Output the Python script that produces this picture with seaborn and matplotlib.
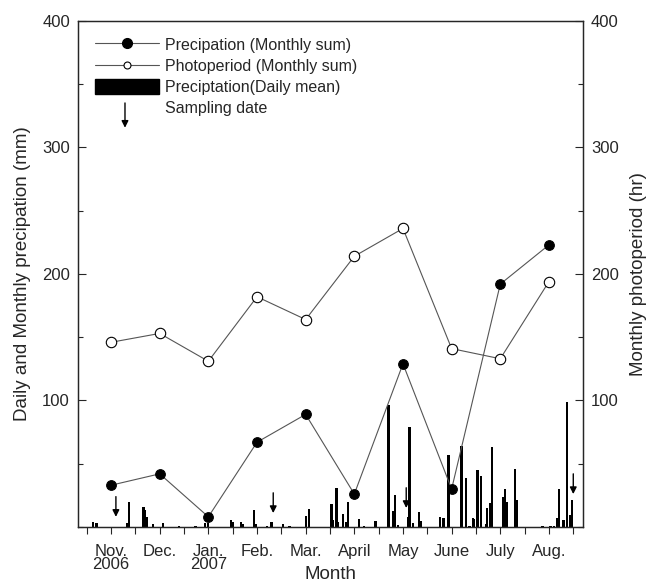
import matplotlib
matplotlib.use("Agg")
import matplotlib.pyplot as plt
from matplotlib.lines import Line2D
from matplotlib.patches import Patch
from matplotlib.ticker import MultipleLocator, FixedLocator
import seaborn as sns
import pandas as pd

# ---------------- data ----------------
month_labels = ["Nov.\n2006", "Dec.", "Jan.\n2007", "Feb.", "Mar.", "April",
                "May", "June", "July", "Aug."]
month_day = [15, 45, 75, 105, 135, 165, 195, 225, 255, 285]   # day index of month centre
precip_monthly = [33, 42, 8, 67, 89, 26, 129, 30, 192, 223]
photoperiod_monthly = [146, 153, 131, 182, 164, 214, 236, 141, 133, 194]

daily_day = [4, 6, 25, 26, 35, 36, 37, 41, 47, 57, 67, 73, 75, 89, 90, 95, 96,
             103, 104, 111, 114, 121, 125, 135, 137, 151, 152, 154, 155, 158,
             160, 161, 168, 171, 178, 186, 189, 190, 192, 198, 199, 201, 205,
             206, 218, 220, 223, 231, 234, 236, 238, 239, 241, 243, 246, 247,
             249, 250, 257, 258, 259, 264, 265, 281, 286, 288, 290, 291, 294,
             296, 298, 299]
daily_mm = [4, 3.4, 3, 20, 15.5, 13.4, 8, 2, 3, 1, 1, 3, 3, 5.5, 4, 4, 2.5,
            13.4, 2, 1, 4, 2.4, 1, 9, 14, 18, 5.5, 30.6, 4, 10,
            4, 20, 6.3, 1, 5, 96.4, 12.9, 25.3, 1.5, 8, 79, 3, 12,
            5, 8, 7, 57, 64, 38.5, 1, 7, 6, 45, 40, 2, 14.7,
            18.7, 63.5, 24, 30, 20, 45.6, 21, 1, 0.7, 0.7, 7.4, 30, 5.5,
            98.6, 9.5, 21]

sampling_day = [18, 115, 197, 300]
sampling_tip_mm = [8, 11, 15, 26]
arrow_len_mm = 16

# ---------------- style ----------------
sns.set_style("ticks")
plt.rcParams["font.family"] = ["Liberation Sans", "DejaVu Sans"]
plt.rcParams["axes.linewidth"] = 0.9

fig = plt.figure(figsize=(6.48, 5.83), dpi=100)
ax = fig.add_axes([0.1208, 0.0961, 0.7784, 0.8679])
ax2 = ax.twinx()

line_col = "#555555"

# daily bars
ax.bar(daily_day, daily_mm, width=1.4, color="black", zorder=2, linewidth=0)

df = pd.DataFrame({"day": month_day, "precip": precip_monthly,
                   "photo": photoperiod_monthly})

sns.lineplot(data=df, x="day", y="precip", ax=ax, color=line_col, lw=0.8,
             marker="o", markersize=7, markerfacecolor="black",
             markeredgecolor="black", zorder=4, legend=False)
sns.lineplot(data=df, x="day", y="photo", ax=ax2, color=line_col, lw=0.8,
             marker="o", markersize=7.5, markerfacecolor="white",
             markeredgecolor="black", markeredgewidth=0.8, zorder=4, legend=False)

# sampling arrows
for d, tip in zip(sampling_day, sampling_tip_mm):
    ax.annotate("", xy=(d, tip), xytext=(d, tip + arrow_len_mm),
                arrowprops=dict(arrowstyle="-|>", color="black", lw=1.0,
                                mutation_scale=10, shrinkA=0, shrinkB=0),
                zorder=5)

# axes
for a in (ax, ax2):
    a.set_ylim(0, 400)
    a.set_xlim(-5.2, 305.8)
    a.yaxis.set_major_locator(FixedLocator([100, 200, 300, 400]))
    a.yaxis.set_minor_locator(MultipleLocator(50))
    a.set_ylabel("")
    a.set_xlabel("")

ax.tick_params(axis="y", which="major", direction="in", length=6, width=0.8,
               labelsize=12, pad=6)
ax.tick_params(axis="y", which="minor", direction="in", length=3.5, width=0.8)
ax2.tick_params(axis="y", which="major", direction="in", length=6, width=0.8,
                labelsize=12, pad=6)
ax2.tick_params(axis="y", which="minor", direction="in", length=3.5, width=0.8)

ax.xaxis.set_major_locator(FixedLocator(month_day))
ax.xaxis.set_minor_locator(MultipleLocator(30))
ax.set_xticklabels(month_labels)
ax.tick_params(axis="x", which="both", direction="out", length=5, width=0.8,
               labelsize=12, pad=7)
ax2.tick_params(axis="x", which="both", bottom=False, labelbottom=False)

for lbl in ax.get_xticklabels():
    lbl.set_linespacing(0.85)

ax.set_xlabel("Month", fontsize=13.5, va="center")
ax.xaxis.set_label_coords(0.5, -0.094)
ax.set_ylabel("Daily and Monthly precipation (mm)", fontsize=13.5, labelpad=8)
ax2.set_ylabel("Monthly photoperiod (hr)", fontsize=13.5, labelpad=8)

for s in ["top", "right", "left", "bottom"]:
    ax.spines[s].set_visible(True)
    ax2.spines[s].set_visible(True)

# legend
handles = [
    Line2D([], [], color=line_col, lw=0.8, marker="o", markersize=7,
           markerfacecolor="black", markeredgecolor="black"),
    Line2D([], [], color=line_col, lw=0.8, marker="o", markersize=5,
           markerfacecolor="white", markeredgecolor="black", markeredgewidth=0.8),
    Patch(facecolor="black", edgecolor="black"),
    Line2D([], [], color="none"),
]
labels = ["Precipation (Monthly sum)", "Photoperiod (Monthly sum)",
          "Preciptation(Daily mean)", "Sampling date"]
leg = ax2.legend(handles, labels, loc="upper left", bbox_to_anchor=(0.02, 0.981),
                 frameon=False, fontsize=11.5, handlelength=4.0,
                 handleheight=1.0, handletextpad=0.42, labelspacing=0.35,
                 borderaxespad=0)
ax2.annotate("", xy=(0.0926, 0.789), xytext=(0.0926, 0.838),
             xycoords="axes fraction",
             arrowprops=dict(arrowstyle="-|>", color="black", lw=1.0,
                             mutation_scale=10, shrinkA=0, shrinkB=0))

fig.savefig("out.png", dpi=100)
